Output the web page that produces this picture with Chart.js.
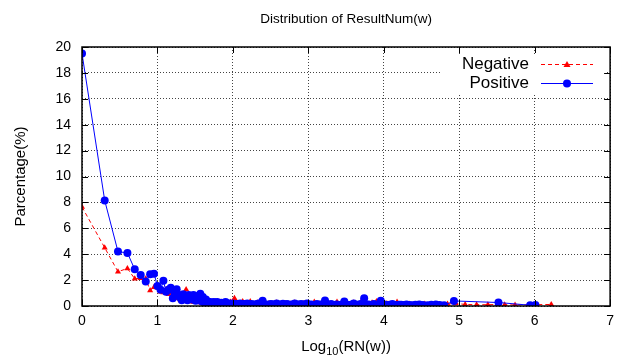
<!DOCTYPE html>
<html>
<head>
<meta charset="utf-8">
<script src="https://cdn.jsdelivr.net/npm/chart.js@4.4.1/dist/chart.umd.min.js"></script>
<style>
    html, body { margin: 0; padding: 0; background: #fff; }
</style>
</head>
<body>
<canvas id="myChart" width="621" height="358"></canvas>
<script>
const titleText = "Distribution of ResultNum(w)";
const yTitle = "Parcentage(%)";
const seriesNames = ["Negative", "Positive"];
const xTicks = [0, 1, 2, 3, 4, 5, 6, 7];
const yTicks = [0, 2, 4, 6, 8, 10, 12, 14, 16, 18, 20];

const negX = [0, 0.301, 0.477, 0.602, 0.699, 0.778, 0.845, 0.903, 0.954, 1.0,
    1.041, 1.079, 1.114, 1.146, 1.176, 1.204, 1.230, 1.255, 1.279, 1.301,
    1.322, 1.342, 1.362, 1.380, 1.398, 1.415, 1.431, 1.447, 1.462, 1.477,
    1.505, 1.531, 1.556, 1.580, 1.602, 1.623, 1.653, 1.681, 1.699, 1.732,
    1.763, 1.792, 1.820, 1.845, 1.869, 1.903, 1.934, 1.968, 2.000, 2.021,
    2.061, 2.097, 2.130, 2.161, 2.190, 2.230, 2.279, 2.322, 2.362, 2.415,
    2.477, 2.531, 2.580, 2.633, 2.699, 2.763, 2.820, 2.869, 2.934, 3.000,
    3.079, 3.146, 3.221, 3.301, 3.380, 3.447, 3.505, 3.602, 3.699, 3.778,
    3.845, 3.903, 3.978, 4.041, 4.114, 4.176, 4.255, 4.342, 4.447, 4.544,
    4.633, 4.740, 4.845, 4.954, 5.079, 5.230, 5.380, 5.505, 5.602, 5.740, 6.220];
const negY = [7.65, 4.5, 2.65, 2.9, 2.1, 2.15, 2.1, 1.2, 1.45, 1.4,
    1.1, 1.05, 1.3, 0.9, 1.0, 0.7, 0.95, 0.6, 0.8, 0.5,
    0.65, 0.45, 0.6, 1.28, 0.5, 0.4, 0.55, 0.35, 0.5, 0.3,
    0.45, 0.3, 0.4, 0.25, 0.35, 0.2, 0.3, 0.2, 0.35, 0.15,
    0.25, 0.15, 0.3, 0.2, 0.15, 0.25, 0.2, 0.3, 0.2, 0.6,
    0.2, 0.15, 0.35, 0.15, 0.2, 0.35, 0.15, 0.25, 0.3, 0.15,
    0.2, 0.15, 0.25, 0.1, 0.2, 0.15, 0.25, 0.1, 0.2, 0.15,
    0.3, 0.15, 0.25, 0.15, 0.3, 0.2, 0.15, 0.25, 0.3, 0.15,
    0.25, 0.35, 0.15, 0.2, 0.15, 0.3, 0.1, 0.15, 0.1, 0.15,
    0.1, 0.12, 0.15, 0.2, 0.12, 0.1, 0.1, 0.12, 0.1, 0.08, 0.12];

const posX = [0, 0.301, 0.477, 0.602, 0.699, 0.778, 0.845, 0.903, 0.954, 1.0,
    1.041, 1.079, 1.114, 1.146, 1.176, 1.204, 1.230, 1.255, 1.279, 1.301,
    1.322, 1.342, 1.362, 1.380, 1.398, 1.415, 1.431, 1.447, 1.462, 1.477,
    1.491, 1.505, 1.519, 1.531, 1.544, 1.556, 1.568, 1.580, 1.591, 1.602,
    1.613, 1.623, 1.633, 1.643, 1.653, 1.663, 1.672, 1.681, 1.690, 1.699,
    1.708, 1.716, 1.724, 1.732, 1.740, 1.748, 1.756, 1.763, 1.771, 1.778,
    1.785, 1.792, 1.799, 1.806, 1.813, 1.820, 1.826, 1.833, 1.839, 1.845,
    1.851, 1.857, 1.863, 1.869, 1.875, 1.881, 1.886, 1.892, 1.898, 1.903,
    1.908, 1.914, 1.919, 1.924, 1.929, 1.934, 1.944, 1.954, 1.961, 1.968,
    1.975, 1.982, 1.991, 2.000, 2.011, 2.021, 2.031, 2.041, 2.051, 2.061,
    2.070, 2.079, 2.088, 2.097, 2.106, 2.114, 2.122, 2.130, 2.138, 2.146,
    2.154, 2.161, 2.168, 2.176, 2.183, 2.190, 2.197, 2.204, 2.217, 2.230,
    2.243, 2.255, 2.267, 2.279, 2.290, 2.301, 2.312, 2.322, 2.332, 2.342,
    2.352, 2.362, 2.378, 2.394, 2.405, 2.415, 2.431, 2.447, 2.462, 2.477,
    2.491, 2.505, 2.518, 2.531, 2.544, 2.556, 2.568, 2.580, 2.591, 2.602,
    2.618, 2.633, 2.648, 2.663, 2.681, 2.699, 2.716, 2.732, 2.748, 2.763,
    2.778, 2.792, 2.806, 2.820, 2.833, 2.845, 2.857, 2.869, 2.886, 2.903,
    2.919, 2.934, 2.944, 2.954, 2.968, 2.982, 2.991, 3.000, 3.021, 3.041,
    3.061, 3.079, 3.097, 3.114, 3.130, 3.146, 3.161, 3.176, 3.199, 3.221,
    3.238, 3.255, 3.279, 3.301, 3.322, 3.342, 3.362, 3.380, 3.398, 3.415,
    3.447, 3.477, 3.491, 3.505, 3.531, 3.556, 3.580, 3.602, 3.628, 3.653,
    3.677, 3.699, 3.720, 3.740, 3.760, 3.778, 3.799, 3.820, 3.845, 3.869,
    3.886, 3.903, 3.931, 3.960, 3.980, 4.000, 4.021, 4.041, 4.079, 4.114,
    4.146, 4.176, 4.204, 4.230, 4.267, 4.301, 4.342, 4.380, 4.420, 4.470,
    4.520, 4.580, 4.630, 4.690, 4.740, 4.800, 4.930, 5.520, 5.940, 6.010];
const posY = [19.5, 8.15, 4.2, 4.1, 2.83, 2.4, 1.9, 2.45, 2.5, 1.55,
    1.25, 1.95, 1.1, 1.25, 1.4, 0.6, 0.95, 1.3, 0.85, 0.65,
    0.45, 0.9, 0.75, 0.55, 0.45, 0.85, 0.6, 0.7, 0.5, 0.85,
    0.55, 0.4, 0.65, 0.45, 0.8, 0.45, 0.95, 0.5, 0.35, 0.7,
    0.3, 0.45, 0.25, 0.5, 0.2, 0.35, 0.15, 0.2, 0.15, 0.3,
    0.1, 0.12, 0.2, 0.25, 0.1, 0.3, 0.15, 0.12, 0.22, 0.2,
    0.1, 0.3, 0.12, 0.12, 0.2, 0.2, 0.1, 0.08, 0.18, 0.25,
    0.1, 0.12, 0.2, 0.2, 0.08, 0.08, 0.15, 0.15, 0.1, 0.3,
    0.12, 0.08, 0.15, 0.2, 0.1, 0.12, 0.08, 0.2, 0.1, 0.12,
    0.15, 0.08, 0.12, 0.2, 0.08, 0.1, 0.15, 0.05, 0.12, 0.15,
    0.1, 0.08, 0.15, 0.2, 0.08, 0.05, 0.12, 0.1, 0.08, 0.15,
    0.1, 0.05, 0.12, 0.1, 0.15, 0.2, 0.08, 0.06, 0.12, 0.1,
    0.15, 0.05, 0.1, 0.12, 0.08, 0.08, 0.12, 0.15, 0.1, 0.2,
    0.08, 0.1, 0.15, 0.4, 0.12, 0.08, 0.1, 0.12, 0.08, 0.05,
    0.12, 0.15, 0.08, 0.1, 0.12, 0.08, 0.12, 0.2, 0.1, 0.05,
    0.12, 0.1, 0.08, 0.18, 0.1, 0.08, 0.15, 0.12, 0.08, 0.05,
    0.12, 0.1, 0.08, 0.2, 0.1, 0.06, 0.12, 0.1, 0.08, 0.15,
    0.1, 0.05, 0.12, 0.1, 0.08, 0.2, 0.1, 0.08, 0.1, 0.12,
    0.08, 0.05, 0.1, 0.15, 0.08, 0.08, 0.12, 0.1, 0.08, 0.42,
    0.12, 0.1, 0.08, 0.15, 0.1, 0.05, 0.1, 0.12, 0.08, 0.08,
    0.12, 0.35, 0.1, 0.1, 0.08, 0.08, 0.12, 0.2, 0.08, 0.1,
    0.12, 0.15, 0.1, 0.6, 0.12, 0.1, 0.12, 0.08, 0.1, 0.15,
    0.08, 0.1, 0.12, 0.4, 0.1, 0.12, 0.1, 0.08, 0.1, 0.15,
    0.08, 0.06, 0.1, 0.1, 0.08, 0.12, 0.08, 0.05, 0.1, 0.12,
    0.08, 0.06, 0.1, 0.12, 0.08, 0.05, 0.39, 0.27, 0.06, 0.08];

const FONT = "'Liberation Sans', Arial, sans-serif";
const negColor = "rgb(255,0,0)";
const posColor = "rgb(0,0,255)";

function toPoints(xs, ys) {
    let pts = [];
    for (let n = 0; n < xs.length; n++) {
        pts.push({ x: xs[n], y: ys[n] });
    }
    return pts;
}

// frame, inward ticks, legend and titles in the gnuplot look
const gnuplotLook = {
    id: "gnuplotLook",
    beforeDatasetsDraw(chart) {
        const ctx = chart.ctx;
        ctx.save();
        ctx.fillStyle = "#fff";
        ctx.fillRect(442, 56, 164, 37);
        ctx.restore();
    },
    afterDraw(chart) {
        const ctx = chart.ctx;
        const a = chart.chartArea;
        const xs = chart.scales.x, ys = chart.scales.y;
        ctx.save();
        ctx.strokeStyle = "#000";
        ctx.lineWidth = 1.5;
        ctx.strokeRect(a.left, a.top, a.right - a.left, a.bottom - a.top);

        ctx.lineWidth = 1;
        ctx.beginPath();
        xTicks.forEach(function (v) {
            const px = Math.round(xs.getPixelForValue(v)) + 0.5;
            ctx.moveTo(px, a.bottom); ctx.lineTo(px, a.bottom - 6);
            ctx.moveTo(px, a.top); ctx.lineTo(px, a.top + 6);
        });
        yTicks.forEach(function (v) {
            const py = Math.round(ys.getPixelForValue(v)) + 0.5;
            ctx.moveTo(a.left, py); ctx.lineTo(a.left + 6, py);
            ctx.moveTo(a.right, py); ctx.lineTo(a.right - 6, py);
        });
        ctx.stroke();

        // title
        const cx = (a.left + a.right) / 2;
        ctx.fillStyle = "#000";
        ctx.textAlign = "center";
        ctx.textBaseline = "middle";
        ctx.font = "13.5px " + FONT;
        ctx.fillText(titleText, cx, 19);

        // x axis title with subscript
        ctx.font = "15px " + FONT;
        const w1 = ctx.measureText("Log").width;
        const w3 = ctx.measureText("(RN(w))").width;
        ctx.font = "11px " + FONT;
        const w2 = ctx.measureText("10").width;
        let sx = cx - (w1 + w2 + w3) / 2;
        ctx.textAlign = "left";
        ctx.textBaseline = "alphabetic";
        ctx.font = "15px " + FONT;
        ctx.fillText("Log", sx, 351);
        ctx.font = "11px " + FONT;
        ctx.fillText("10", sx + w1, 355);
        ctx.font = "15px " + FONT;
        ctx.fillText("(RN(w))", sx + w1 + w2, 351);

        // y axis title
        ctx.save();
        ctx.translate(21, (a.top + a.bottom) / 2);
        ctx.rotate(-Math.PI / 2);
        ctx.textAlign = "center";
        ctx.textBaseline = "middle";
        ctx.font = "15px " + FONT;
        ctx.fillText(yTitle, 0, 0);
        ctx.restore();

        // legend
        ctx.font = "17px " + FONT;
        ctx.textAlign = "right";
        ctx.textBaseline = "middle";
        ctx.fillText(seriesNames[0], 529, 64);
        ctx.fillText(seriesNames[1], 529, 83);

        ctx.lineWidth = 1;
        ctx.strokeStyle = negColor;
        ctx.setLineDash([4, 3]);
        ctx.beginPath(); ctx.moveTo(541, 64.5); ctx.lineTo(593, 64.5); ctx.stroke();
        ctx.setLineDash([]);
        ctx.fillStyle = negColor;
        ctx.beginPath();
        ctx.moveTo(567, 61); ctx.lineTo(570.5, 67); ctx.lineTo(563.5, 67); ctx.closePath();
        ctx.fill();

        ctx.strokeStyle = posColor;
        ctx.beginPath(); ctx.moveTo(541, 83.5); ctx.lineTo(593, 83.5); ctx.stroke();
        ctx.fillStyle = posColor;
        ctx.beginPath(); ctx.arc(567, 83.5, 4, 0, Math.PI * 2); ctx.fill();
        ctx.restore();
    }
};

const data = {
    datasets: [{
        label: seriesNames[0],
        data: toPoints(negX, negY),
        borderColor: negColor,
        backgroundColor: negColor,
        borderWidth: 1,
        borderDash: [4, 3],
        pointStyle: "triangle",
        pointRadius: 3.5,
        pointBorderWidth: 0,
        order: 1
    }, {
        label: seriesNames[1],
        data: toPoints(posX, posY),
        borderColor: posColor,
        backgroundColor: posColor,
        borderWidth: 1,
        pointStyle: "circle",
        pointRadius: 4,
        pointBorderWidth: 0,
        order: 0
    }]
};

const config = {
    type: "line",
    data: data,
    options: {
        responsive: false,
        animation: false,
        devicePixelRatio: 1,
        layout: { padding: { top: 47, right: 7, left: 0, bottom: 0 } },
        plugins: {
            legend: { display: false },
            tooltip: { enabled: false },
            title: { display: false }
        },
        scales: {
            x: {
                type: "linear",
                min: 0,
                max: 7,
                afterFit: function (s) { s.height = 52; },
                ticks: { stepSize: 1, padding: 7, color: "#000", font: { family: FONT, size: 14 } },
                grid: { color: "#444", lineWidth: 1, drawTicks: false },
                border: { display: false, dash: [1, 2] }
            },
            y: {
                min: 0,
                max: 20,
                afterFit: function (s) { s.width = 82; },
                ticks: { stepSize: 2, padding: 11, color: "#000", font: { family: FONT, size: 14 } },
                grid: { color: "#444", lineWidth: 1, drawTicks: false },
                border: { display: false, dash: [1, 2] }
            }
        }
    },
    plugins: [gnuplotLook]
};

const myChart = new Chart(document.getElementById("myChart"), config);
</script>
</body>
</html>
